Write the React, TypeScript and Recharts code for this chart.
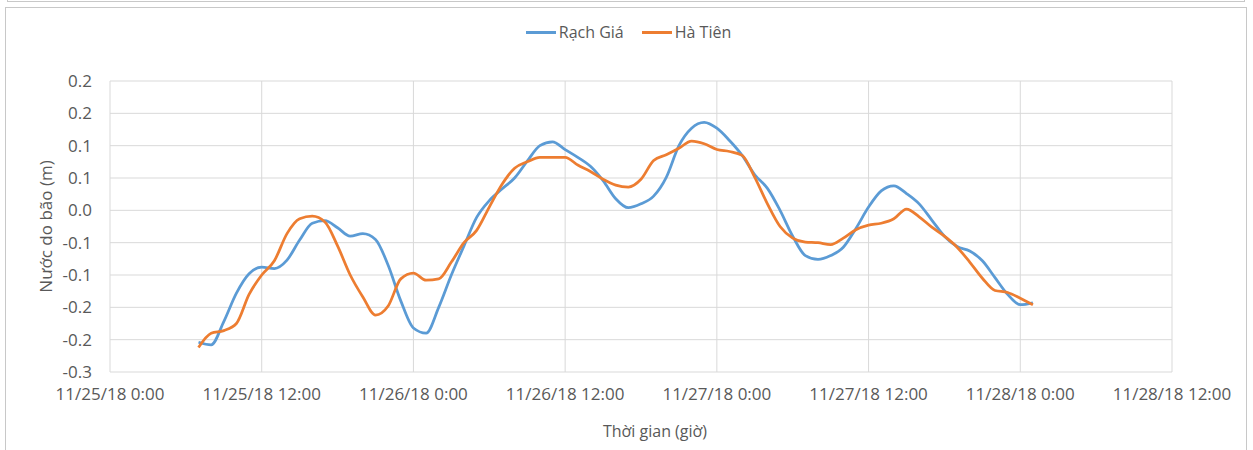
import React from 'react'
import { LineChart, Line, XAxis, YAxis, CartesianGrid } from 'recharts'

// hours counted from 11/25/18 0:00
const hours = [
  7, 8, 9, 10, 11, 12, 13, 14, 15, 16, 17, 18, 19, 20, 21, 22, 23, 24, 25, 26,
  27, 28, 29, 30, 31, 32, 33, 34, 35, 36, 37, 38, 39, 40, 41, 42, 43, 44, 45, 46,
  47, 48, 49, 50, 51, 52, 53, 54, 55, 56, 57, 58, 59, 60, 61, 62, 63, 64, 65, 66,
  67, 68, 69, 70, 71, 72, 73,
]

const rachGia = [
  -0.204, -0.208, -0.172, -0.128, -0.098, -0.088, -0.09, -0.077, -0.046, -0.02,
  -0.016, -0.027, -0.04, -0.036, -0.045, -0.085, -0.14, -0.182, -0.19, -0.15,
  -0.1, -0.055, -0.011, 0.015, 0.033, 0.05, 0.076, 0.1, 0.106, 0.094,
  0.082, 0.068, 0.046, 0.018, 0.004, 0.01, 0.022, 0.051, 0.1, 0.127,
  0.136, 0.127, 0.108, 0.085, 0.055, 0.034, 0.0, -0.04, -0.07, -0.076,
  -0.07, -0.057, -0.028, 0.005, 0.03, 0.038, 0.026, 0.01, -0.015, -0.04,
  -0.056, -0.063, -0.078, -0.104, -0.13, -0.146, -0.143,
]

const haTien = [
  -0.212, -0.19, -0.186, -0.175, -0.13, -0.1, -0.078, -0.036, -0.013, -0.009,
  -0.018, -0.055, -0.1, -0.134, -0.162, -0.148, -0.106, -0.097, -0.108, -0.106,
  -0.08, -0.05, -0.031, 0.005, 0.04, 0.065, 0.075, 0.082, 0.082, 0.082,
  0.07, 0.06, 0.048, 0.039, 0.036, 0.048, 0.077, 0.086, 0.096, 0.107,
  0.103, 0.094, 0.091, 0.085, 0.051, 0.01, -0.025, -0.043, -0.049, -0.05,
  -0.053, -0.043, -0.03, -0.023, -0.02, -0.013, 0.002, -0.01, -0.026, -0.04,
  -0.057, -0.08, -0.105, -0.124, -0.127, -0.136, -0.146,
]

const xTicks = [0, 12, 24, 36, 48, 60, 72, 84]
const xTickLabels = [
  '11/25/18 0:00', '11/25/18 12:00', '11/26/18 0:00', '11/26/18 12:00',
  '11/27/18 0:00', '11/27/18 12:00', '11/28/18 0:00', '11/28/18 12:00',
]

const yTicks = [-0.25, -0.2, -0.15, -0.1, -0.05, 0, 0.05, 0.1, 0.15, 0.2]
// Excel shows these rounded to one decimal
const yTickLabels = ['-0.3', '-0.2', '-0.2', '-0.1', '-0.1', '0.0', '0.1', '0.1', '0.2', '0.2']

const BLUE = '#5b9bd5'
const ORANGE = '#ed7d31'
const TEXT = '#595959'
const FRAME = '#c8c8c8'
const FONT = '"Open Sans", sans-serif'
const FS = 17

const data = hours.map((h, i) => ({ h, rachGia: rachGia[i], haTien: haTien[i] }))

export default function App() {
  return (
    <div style={{ position: 'absolute', left: 0, top: 0, width: 1253, height: 450, background: '#fff', overflow: 'hidden', fontFamily: FONT }}>
      {/* excel sheet / chart frame */}
      <div style={{ position: 'absolute', left: 7, top: -20, width: 1238, height: 22, boxSizing: 'border-box', border: `1px solid ${FRAME}` }} />
      <div style={{ position: 'absolute', left: 5, top: 7, width: 1242, height: 470, boxSizing: 'border-box', border: `1px solid ${FRAME}` }} />

      {/* legend */}
      <div style={{ position: 'absolute', top: 21, left: 0, width: 1253, display: 'flex', justifyContent: 'center', fontSize: 16, color: TEXT, paddingLeft: 2 }}>
        <span style={{ display: 'flex', alignItems: 'center', marginRight: 18 }}>
          <span style={{ width: 30, height: 3, background: BLUE, marginRight: 3 }} />Rạch Giá
        </span>
        <span style={{ display: 'flex', alignItems: 'center' }}>
          <span style={{ width: 30, height: 3, background: ORANGE, marginRight: 3 }} />Hà Tiên
        </span>
      </div>

      <div style={{ position: 'absolute', left: 0, top: 0 }}>
        <LineChart width={1253} height={450} data={data} margin={{ top: 81, right: 81, bottom: 10, left: 20 }}>
          <CartesianGrid stroke="#d9d9d9" strokeWidth={1} />
          <XAxis
            dataKey="h"
            type="number"
            domain={[0, 84]}
            ticks={xTicks}
            tickFormatter={(v: number) => xTickLabels[xTicks.indexOf(v)]}
            tick={{ fill: TEXT, fontSize: FS, fontFamily: FONT }}
            tickLine={false}
            axisLine={false}
            tickSize={0}
            tickMargin={16}
            height={68}
            interval={0}
            label={{ value: 'Thời gian (giờ)', position: 'insideBottom', offset: 3, dx: 14, fill: TEXT, fontSize: 16, fontFamily: FONT }}
          />
          <YAxis
            type="number"
            domain={[-0.25, 0.2]}
            ticks={yTicks}
            tickFormatter={(v: number) => yTickLabels[yTicks.indexOf(v)]}
            tick={{ fill: TEXT, fontSize: FS, fontFamily: FONT }}
            tickLine={false}
            axisLine={false}
            tickSize={0}
            tickMargin={18}
            width={90}
            interval={0}
            label={{ value: 'Nước do bão (m)', angle: -90, position: 'insideLeft', offset: 26, fill: TEXT, fontSize: 17, fontFamily: FONT, style: { textAnchor: 'middle' } }}
          />
          <Line type="monotone" dataKey="rachGia" stroke={BLUE} strokeWidth={2.75} dot={false} isAnimationActive={false} />
          <Line type="monotone" dataKey="haTien" stroke={ORANGE} strokeWidth={2.75} dot={false} isAnimationActive={false} />
        </LineChart>
      </div>
    </div>
  )
}
